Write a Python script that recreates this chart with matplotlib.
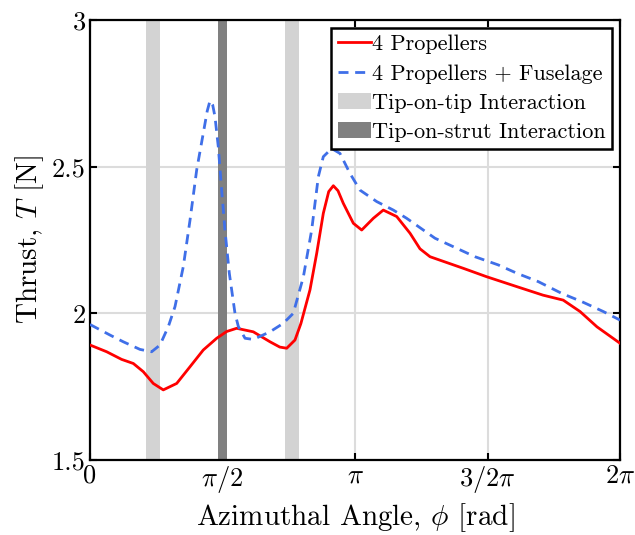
import numpy as np
import matplotlib
matplotlib.use("Agg")
import matplotlib.pyplot as plt
from matplotlib.patches import Patch
from matplotlib.lines import Line2D

plt.rcParams['font.family'] = 'serif'
plt.rcParams['font.serif'] = ['cmr10']
plt.rcParams['mathtext.fontset'] = 'cm'
plt.rcParams['axes.formatter.use_mathtext'] = True

# 4 propellers (red, solid)
phi_prop = [0.0, 0.198, 0.375, 0.514, 0.632, 0.75, 0.869, 1.028, 1.186, 1.343,
            1.502, 1.62, 1.739, 1.936, 2.134, 2.25, 2.332, 2.43, 2.50, 2.608,
            2.688, 2.766, 2.83, 2.885, 2.94, 3.003, 3.122, 3.221, 3.359, 3.477,
            3.636, 3.794, 3.912, 4.031, 4.43, 4.70, 5.06, 5.37, 5.61, 5.81,
            6.01, 6.283]
thrust_prop = [1.892, 1.869, 1.843, 1.829, 1.801, 1.761, 1.739, 1.761, 1.818, 1.875,
               1.915, 1.938, 1.949, 1.937, 1.903, 1.885, 1.881, 1.909, 1.965, 2.080,
               2.205, 2.341, 2.415, 2.435, 2.418, 2.375, 2.307, 2.284, 2.324, 2.352,
               2.330, 2.273, 2.220, 2.193, 2.153, 2.125, 2.091, 2.062, 2.045, 2.006,
               1.954, 1.898]

# 4 propellers + fuselage (blue, dashed)
phi_fus = [0.0, 0.237, 0.395, 0.593, 0.731, 0.83, 0.929, 1.008, 1.106, 1.186,
           1.265, 1.343, 1.39, 1.423, 1.455, 1.482, 1.521, 1.561, 1.60, 1.652,
           1.719, 1.759, 1.838, 1.936, 2.134, 2.292, 2.41, 2.53, 2.628, 2.707,
           2.766, 2.865, 2.964, 3.082, 3.201, 3.399, 3.596, 3.754, 4.09, 4.564,
           4.84, 5.066, 5.315, 5.592, 5.829, 6.086, 6.283]
thrust_fus = [1.962, 1.926, 1.903, 1.877, 1.869, 1.892, 1.955, 2.023, 2.159, 2.318,
              2.489, 2.614, 2.690, 2.725, 2.710, 2.670, 2.568, 2.420, 2.284, 2.136,
              2.000, 1.955, 1.915, 1.911, 1.937, 1.966, 2.000, 2.125, 2.284, 2.466,
              2.534, 2.562, 2.545, 2.477, 2.420, 2.381, 2.352, 2.324, 2.256, 2.193,
              2.165, 2.136, 2.108, 2.068, 2.040, 2.006, 1.977]

# interaction bands (centre, width) in rad
tip_tip = [0.747, 2.395]
tip_tip_width = 0.17
tip_strut = [np.pi / 2]
tip_strut_width = 0.10

xticks = [0, np.pi / 2, np.pi, 3 * np.pi / 2, 2 * np.pi]
xticklabels = ['0', r'$\pi/2$', r'$\pi$', r'$3/2\pi$', r'$2\pi$']
yticks = [1.5, 2, 2.5, 3]
yticklabels = ['1.5', '2', '2.5', '3']

light = '#d3d3d3'
dark = '#808080'

fig = plt.figure(figsize=(6.35, 5.35), dpi=100)
ax = fig.add_axes([0.1417, 0.1402, 0.8347, 0.8224])

for c in tip_tip:
    ax.axvspan(c - tip_tip_width / 2, c + tip_tip_width / 2, color=light, lw=0, zorder=1)
for c in tip_strut:
    ax.axvspan(c - tip_strut_width / 2, c + tip_strut_width / 2, color=dark, lw=0, zorder=1)

ax.plot(phi_prop, thrust_prop, color='red', lw=2.0, zorder=3)
ax.plot(phi_fus, thrust_fus, color='#3f6fe8', lw=2.0, dashes=(3.6, 2.4), zorder=3)

ax.set_xlim(0, 2 * np.pi)
ax.set_ylim(1.5, 3)
ax.set_xticks(xticks)
ax.set_xticklabels(xticklabels)
ax.set_yticks(yticks)
ax.set_yticklabels(yticklabels)
ax.grid(True, color='#dcdcdc', lw=1.5, zorder=0)
ax.set_axisbelow(True)
ax.tick_params(direction='in', top=True, right=True, length=5, width=1.5,
               labelsize=19, pad=3)
for s in ax.spines.values():
    s.set_linewidth(1.6)

ax.set_xlabel(r'Azimuthal Angle, $\phi$ [rad]', fontsize=21, labelpad=4)
ax.set_ylabel(r'Thrust, $T$ [N]', fontsize=21, labelpad=4)

handles = [Line2D([], [], color='red', lw=2.0),
           Line2D([], [], color='#3f6fe8', lw=2.0, dashes=(3.6, 2.4)),
           Patch(facecolor=light, edgecolor='none'),
           Patch(facecolor=dark, edgecolor='none')]
labels = ['4 Propellers', '4 Propellers + Fuselage', 'Tip-on-tip Interaction',
          'Tip-on-strut Interaction']
leg = ax.legend(handles, labels, loc='upper right', fontsize=16, fancybox=False,
                framealpha=1, edgecolor='black', handlelength=1.5, handletextpad=0.05,
                handleheight=0.75, borderpad=0.3, labelspacing=0.42, borderaxespad=0.35)
leg.get_frame().set_linewidth(1.8)

fig.savefig('out.png', dpi=100)
